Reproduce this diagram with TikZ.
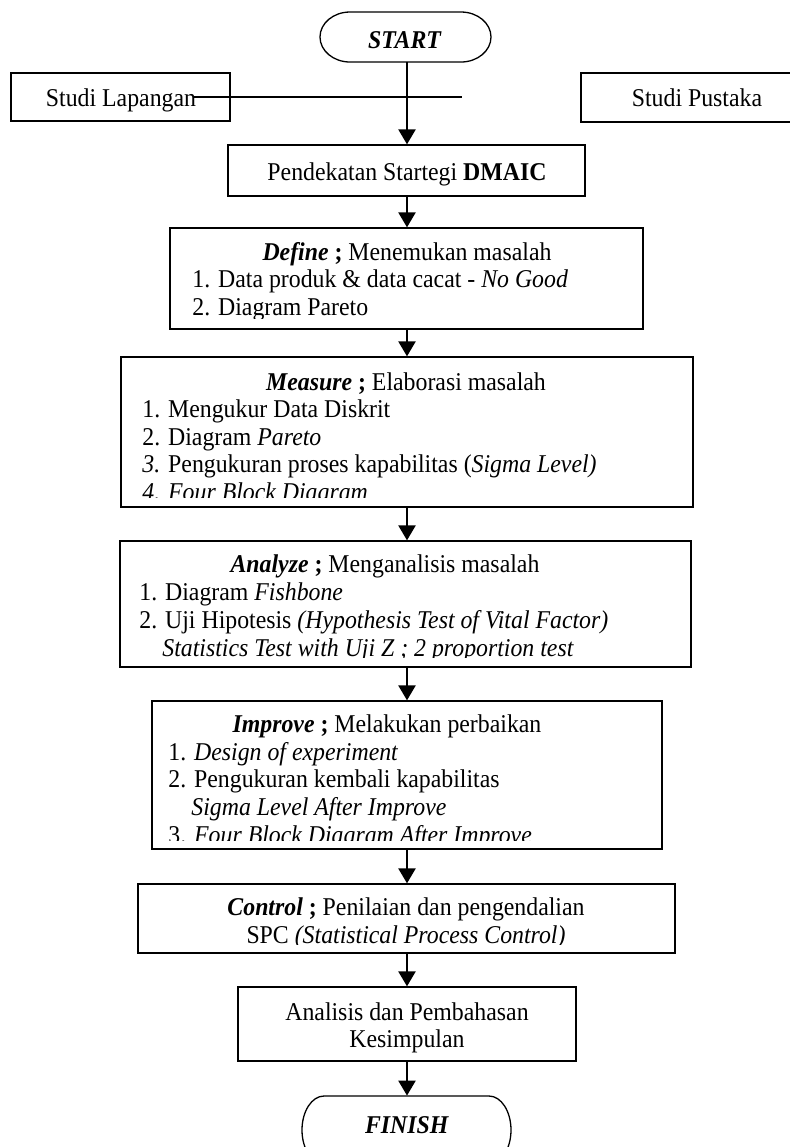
\documentclass[tikz,border=0pt]{standalone}
\usepackage{fontspec}
\setmainfont{Liberation Serif}[FakeStretch=0.93]
\usetikzlibrary{fit,arrows.meta}
\begin{document}
\begin{tikzpicture}[x=0.5pt,y=-0.5pt,
  box/.style={draw, line width=0.65pt, inner sep=0pt},
  termline/.style={draw, line width=0.65pt},
  arr/.style={line width=1.2pt, -{Triangle[width=8.5pt,length=7.5pt]}},
  txt/.style={inner sep=0pt, anchor=base west, font=\fontsize{12.8pt}{13.75pt}\selectfont},
  ctxt/.style={inner sep=0pt, anchor=base, font=\fontsize{12.8pt}{13.75pt}\selectfont}]
\useasboundingbox (0,0) rectangle (789,1147);
\coordinate (axis) at (407,0);

% terminals
\node[inner sep=0pt, fit={(320,12)(491,62)}] (start) {};
\draw[termline] (350,12) -- (461,12)
  arc[start angle=90, end angle=-90, x radius=15pt, y radius=12.5pt]
  -- (350,62)
  arc[start angle=270, end angle=90, x radius=15pt, y radius=12.5pt] -- cycle;
\node[ctxt] (starttxt) at (405,48) {\textbf{\textit{START}}};

% side boxes
\node[box, fit={(11,73)(230,121)}] (lap) {};
\node[ctxt] (laptxt) at (121,106) {Studi Lapangan};
\node[box, fit={(581,73)(795,122)}] (pus) {};
\node[ctxt] (pustxt) at (697,106) {Studi Pustaka};
\coordinate (ls) at (193,97);
\coordinate (le) at (462,97);
\draw[line width=1pt] (ls) -- (le);

% Pendekatan
\node[box, fit={(228,145)(585,196)}] (pend) {};
\node[ctxt] at (407,180) {Pendekatan Startegi \textbf{DMAIC}};

% Define
\node[box, fit={(170,228)(643,329)}] (def) {};
\begin{scope}
\clip (171,229) rectangle (642,318);
\node[ctxt] at (407,260) {\textbf{\textit{Define} ;} Menemukan masalah};
\node[txt] at (192,287) {1. Data produk \& data cacat - \textit{No Good}};
\node[txt] at (192,315) {2. Diagram Pareto};
\end{scope}

% Measure
\node[box, fit={(121,357)(693,507)}] (mea) {};
\begin{scope}
\clip (122,358) rectangle (692,497);
\node[ctxt] at (406,390) {\textbf{\textit{Measure} ;} Elaborasi masalah};
\node[txt] at (142,417) {1. Mengukur Data Diskrit};
\node[txt] at (142,445) {2. Diagram \textit{Pareto}};
\node[txt] at (142,472) {\textit{3.} Pengukuran proses kapabilitas (\textit{Sigma Level)}};
\node[txt] at (142,500) {\textit{4. Four Block Diagram}};
\end{scope}

% Analyze
\node[box, fit={(120,541)(691,667)}] (ana) {};
\begin{scope}
\clip (121,542) rectangle (690,657);
\node[ctxt] at (385,572) {\textbf{\textit{Analyze} ;} Menganalisis masalah};
\node[txt] at (139,600) {1. Diagram \textit{Fishbone}};
\node[txt] at (139,628) {2. Uji Hipotesis \textit{(Hypothesis Test of Vital Factor)}};
\node[txt] at (162,656) {\textit{Statistics Test with Uji Z ; 2 proportion test}};
\end{scope}

% Improve
\node[box, fit={(152,701)(662,849)}] (imp) {};
\begin{scope}
\clip (153,702) rectangle (661,840);
\node[ctxt] at (387,732) {\textbf{\textit{Improve} ;} Melakukan perbaikan};
\node[txt] at (168,760) {1. \textit{Design of experiment}};
\node[txt] at (168,787) {2. Pengukuran kembali kapabilitas};
\node[txt] at (191,815) {\textit{Sigma Level After Improve}};
\node[txt] at (168,843) {3. \textit{Four Block Diagram After Improve}};
\end{scope}

% Control
\node[box, fit={(138,884)(675,953)}] (con) {};
\begin{scope}
\clip (139,885) rectangle (674,944);
\node[ctxt] at (406,915) {\textbf{\textit{Control} ;} Penilaian dan pengendalian};
\node[ctxt] at (406,943) {SPC \textit{(Statistical Process Control)}};
\end{scope}

% Analisis
\node[box, fit={(238,987)(576,1061)}] (anl) {};
\node[ctxt] at (407,1020) {Analisis dan Pembahasan};
\node[ctxt] at (407,1047) {Kesimpulan};

% Finish
\node[inner sep=0pt, fit={(302,1096)(511,1164)}] (fin) {};
\draw[termline] (324,1096) -- (489,1096)
  arc[start angle=90, end angle=-90, x radius=11pt, y radius=17pt]
  -- (324,1164)
  arc[start angle=270, end angle=90, x radius=11pt, y radius=17pt] -- cycle;
\node[ctxt] (fintxt) at (407,1133) {\textbf{\textit{FINISH}}};

% arrows
\draw[arr] (start.south -| axis) -- (pend.north -| axis);
\draw[arr] (pend.south -| axis) -- (def.north -| axis);
\draw[arr] (def.south -| axis) -- (mea.north -| axis);
\draw[arr] (mea.south -| axis) -- (ana.north -| axis);
\draw[arr] (ana.south -| axis) -- (imp.north -| axis);
\draw[arr] (imp.south -| axis) -- (con.north -| axis);
\draw[arr] (con.south -| axis) -- (anl.north -| axis);
\draw[arr] (anl.south -| axis) -- (fin.north -| axis);
\end{tikzpicture}
\end{document}
